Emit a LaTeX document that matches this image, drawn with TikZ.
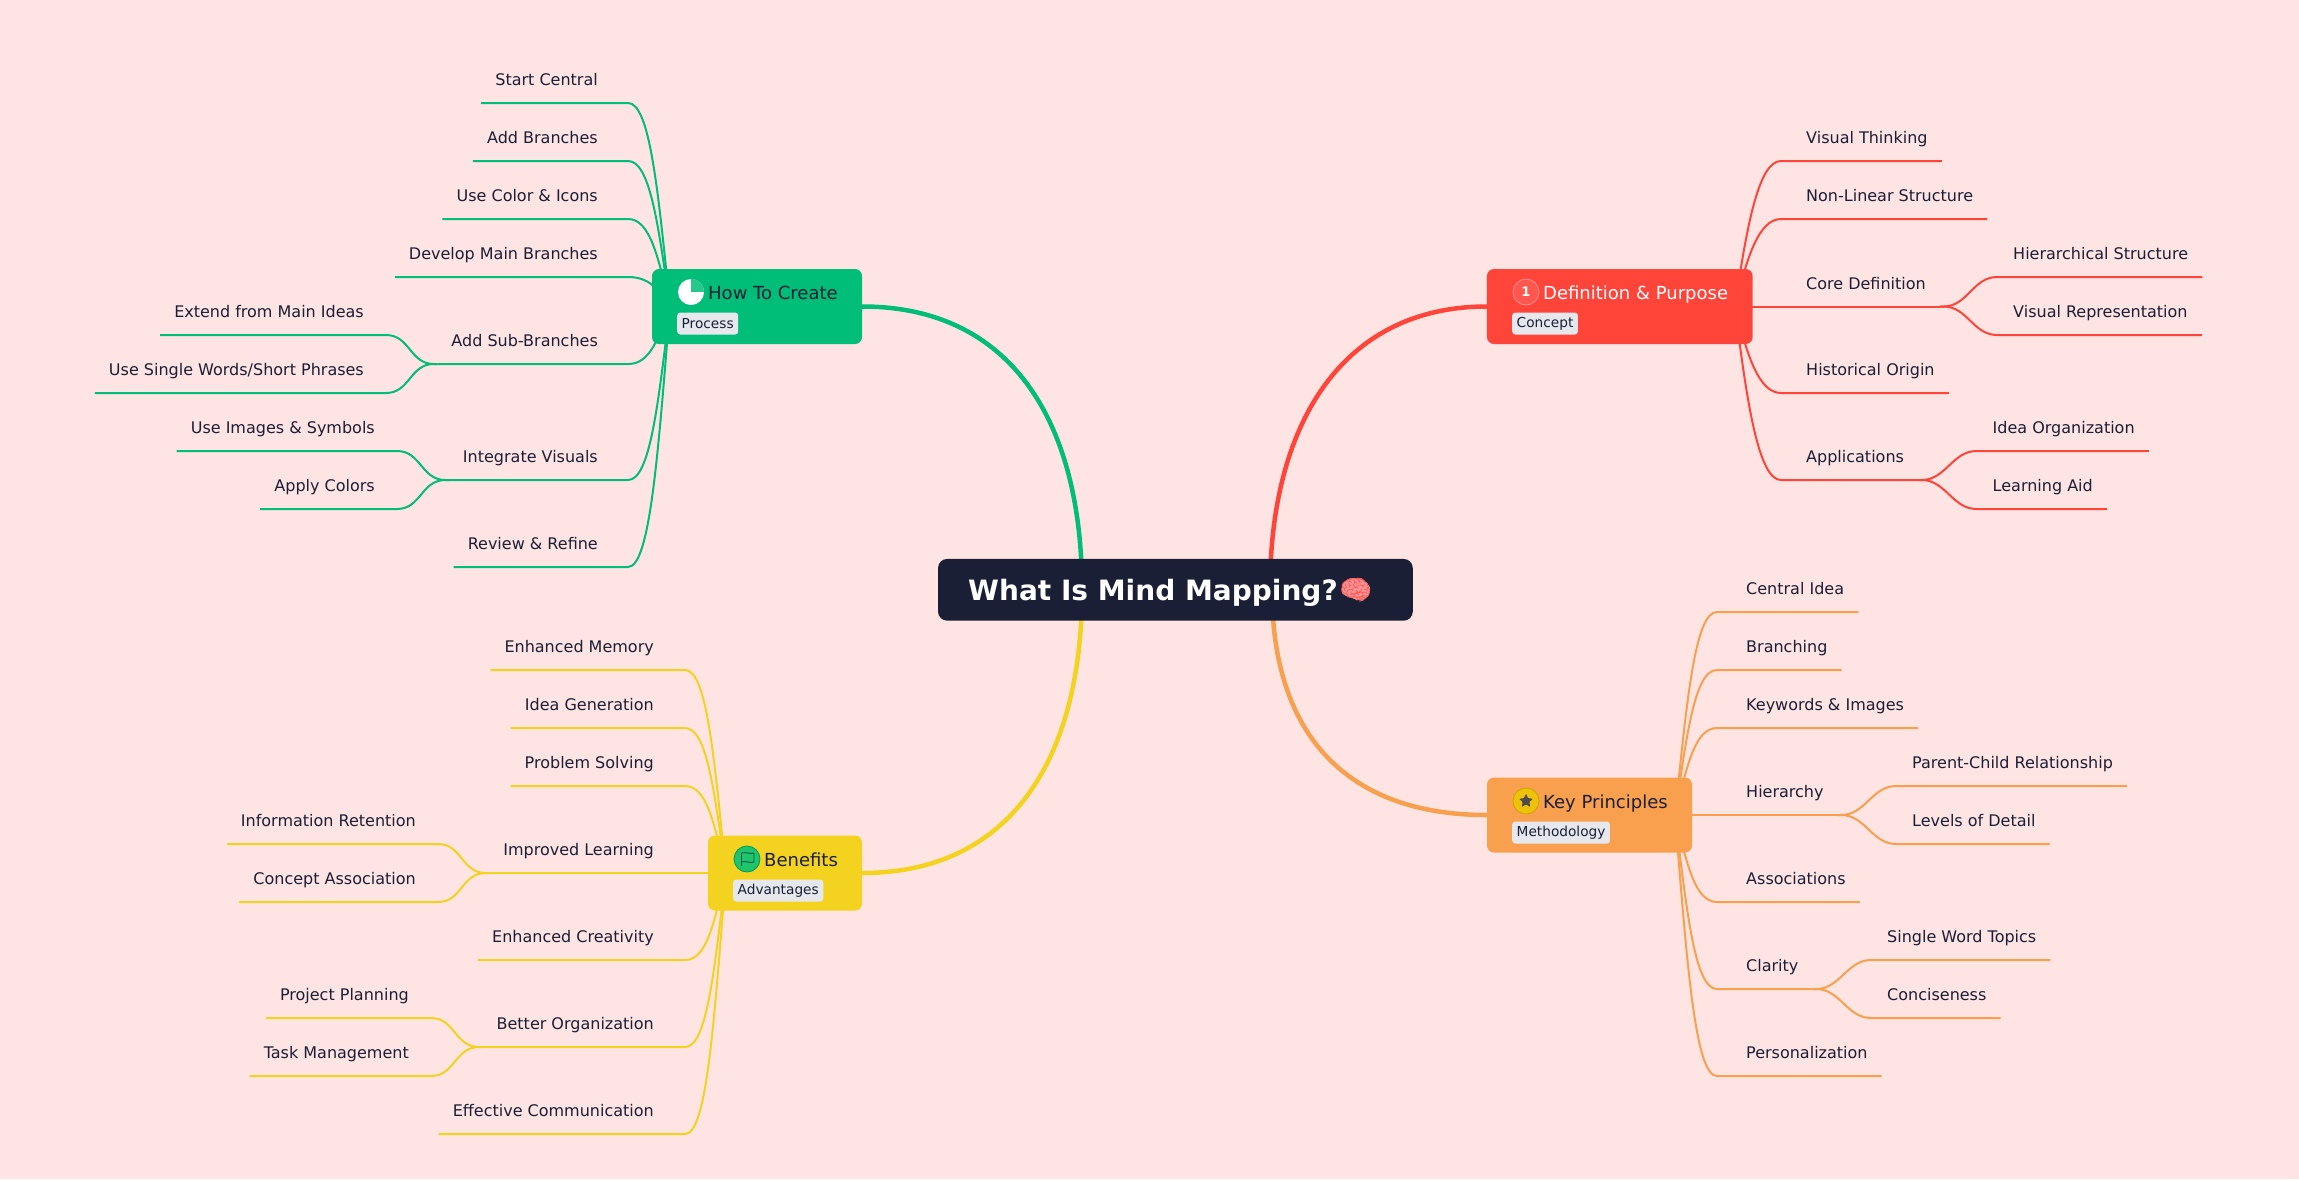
\documentclass[tikz,border=0pt]{standalone}
\usepackage{fontspec}
\setmainfont{DejaVu Sans}
\newfontfamily\emojifont{Noto Emoji}
\usetikzlibrary{calc,shapes.geometric}
\definecolor{pagebg}{HTML}{FFE4E4}
\definecolor{inkdark}{HTML}{1A1F36}
\definecolor{howcol}{HTML}{00BD78}
\definecolor{defcol}{HTML}{FF443A}
\definecolor{keycol}{HTML}{F8A04E}
\definecolor{bencol}{HTML}{F4D320}
\definecolor{tagbg}{HTML}{E6E8EE}
\tikzset{
    leaf/.style={inner xsep=14pt, inner ysep=0pt, text height=12pt, text depth=17.2pt, text=inkdark, font=\fontsize{16}{19}\selectfont},
    leafl/.style={leaf, anchor=south east},
    leafr/.style={leaf, anchor=south west},
    topic/.style={rectangle, rounded corners=7pt, minimum width=#1, minimum height=75pt, inner sep=0pt},
    toptitle/.style={anchor=base west, inner sep=0pt, text=inkdark, font=\fontsize{18}{21}\selectfont},
    taglabel/.style={anchor=west, rectangle, rounded corners=3pt, fill=tagbg, minimum height=22pt, inner xsep=4.5pt, inner ysep=0pt, text=inkdark, font=\fontsize{13.7}{16}\selectfont},
    iconc/.style={circle, minimum size=26pt, inner sep=0pt},
    thin branch/.style={draw=#1, line width=2pt},
    main branch/.style={draw=#1, line width=4.5pt}
}
\begin{document}
\begin{tikzpicture}[x=1pt, y=-1pt]
    \fill[pagebg] (0,0) rectangle (2299,1179);

    \coordinate (howhub) at (670,306.5);
    \coordinate (defhub) at (1735,306.5);
    \coordinate (keyhub) at (1675,815);
    \coordinate (benhub) at (726,873);
    \coordinate (rootg) at (1082,590);
    \coordinate (rootr) at (1270,590);
    \coordinate (rooty) at (1082,590);
    \coordinate (rooto) at (1272,590);

    % How To Create
    \foreach \nm/\yy/\txt in {howa/103/Start Central, howb/161/Add Branches, howc/219/Use Color \& Icons, howd/277/Develop Main Branches, howe/364/Add Sub-Branches, howf/480/Integrate Visuals, howg/567/Review \& Refine} {
        \pgfmathsetmacro{\ym}{.57*\yy+.43*306.5}
        \node[leafl] (\nm) at (612,\yy) {\txt};
        \draw[thin branch=howcol] (howhub) .. controls (658,\ym) and (650,\yy) .. ($(\nm.south east)+(16,0)$) -- (\nm.south west);
    }
    \foreach \nm/\pn/\xx/\yy/\txt in {howea/howe/378/335/Extend from Main Ideas, howeb/howe/378/393/{Use Single Words/Short Phrases}, howfa/howf/389/451/Use Images \& Symbols, howfb/howf/389/509/Apply Colors} {
        \node[leafl] (\nm) at (\xx,\yy) {\txt};
        \draw[thin branch=howcol] (\pn.south west) -- ++(-3.5,0) .. controls +(-24,0) and +(24,0) .. ($(\nm.south east)+(8,0)$) -- (\nm.south west);
    }

    % Definition & Purpose
    \foreach \nm/\yy/\txt in {defa/161/Visual Thinking, defb/219/Non-Linear Structure, defc/306.5/Core Definition, defd/393/Historical Origin, defe/480/Applications} {
        \pgfmathsetmacro{\ym}{.57*\yy+.43*306.5}
        \node[leafr] (\nm) at (1792,\yy) {\txt};
        \draw[thin branch=defcol] (defhub) .. controls (1747,\ym) and (1759,\yy) .. ($(\nm.south west)+(-11,0)$) -- (\nm.south east);
    }
    \foreach \nm/\pn/\xx/\yy/\txt in {defca/defc/1999/277/Hierarchical Structure, defcb/defc/1999/335/Visual Representation, defea/defe/1978.5/451/Idea Organization, defeb/defe/1978.5/509/Learning Aid} {
        \node[leafr] (\nm) at (\xx,\yy) {\txt};
        \draw[thin branch=defcol] (\pn.south east) -- ++(3.5,0) .. controls +(24,0) and +(-24,0) .. ($(\nm.south west)+(-2,0)$) -- (\nm.south east);
    }

    % Key Principles
    \foreach \nm/\yy/\txt in {keya/612/Central Idea, keyb/670/Branching, keyc/728/Keywords \& Images, keyd/815/Hierarchy, keye/902/Associations, keyf/989/Clarity, keyg/1076/Personalization} {
        \pgfmathsetmacro{\ym}{.57*\yy+.43*815}
        \node[leafr] (\nm) at (1732,\yy) {\txt};
        \draw[thin branch=keycol] (keyhub) .. controls (1687,\ym) and (1695,\yy) .. ($(\nm.south west)+(-15,0)$) -- (\nm.south east);
    }
    \foreach \nm/\pn/\xx/\yy/\txt in {keyda/keyd/1898/786/Parent-Child Relationship, keydb/keyd/1898/844/Levels of Detail, keyfa/keyf/1873/960/Single Word Topics, keyfb/keyf/1873/1018/Conciseness} {
        \node[leafr] (\nm) at (\xx,\yy) {\txt};
        \draw[thin branch=keycol] (\pn.south east) -- ++(3.5,0) .. controls +(24,0) and +(-24,0) .. ($(\nm.south west)+(-2,0)$) -- (\nm.south east);
    }

    % Benefits
    \foreach \nm/\yy/\txt in {bena/670/Enhanced Memory, benb/728/Idea Generation, benc/786/Problem Solving, bend/873/Improved Learning, bene/960/Enhanced Creativity, benf/1047/Better Organization, beng/1134/Effective Communication} {
        \pgfmathsetmacro{\ym}{.57*\yy+.43*873}
        \node[leafl] (\nm) at (668,\yy) {\txt};
        \draw[thin branch=bencol] (benhub) .. controls (714,\ym) and (707,\yy) .. ($(\nm.south east)+(17,0)$) -- (\nm.south west);
    }
    \foreach \nm/\pn/\xx/\yy/\txt in {benda/bend/430/844/Information Retention, bendb/bend/430/902/Concept Association, benfa/benf/423/1018/Project Planning, benfb/benf/423/1076/Task Management} {
        \node[leafl] (\nm) at (\xx,\yy) {\txt};
        \draw[thin branch=bencol] (\pn.south west) -- ++(-3.5,0) .. controls +(-24,0) and +(24,0) .. ($(\nm.south east)+(8,0)$) -- (\nm.south west);
    }

    % main topics
    \node[topic=210pt, fill=howcol] (how) at (757,306.5) {};
    \node[topic=265.7pt, fill=defcol] (def) at (1619.8,306.5) {};
    \node[topic=205pt, fill=keycol] (key) at (1589.5,815) {};
    \node[topic=154pt, fill=bencol] (ben) at (785,873) {};

    \node[toptitle] (howtitle) at (708,299) {How To Create};
    \node[toptitle, text=white] (deftitle) at (1543,299) {Definition \& Purpose};
    \node[toptitle] (keytitle) at (1543,808) {Key Principles};
    \node[toptitle] (bentitle) at (764,866) {Benefits};

    \node[taglabel] (howtag) at (677,323.5) {Process};
    \node[taglabel] (deftag) at (1512,323.5) {Concept};
    \node[taglabel] (keytag) at (1512,832.5) {Methodology};
    \node[taglabel] (bentag) at (733,890.5) {Advantages};

    % icons
    \node[iconc, fill=white] (howicon) at (691,292) {};
    \fill[howcol!85!white] (howicon.center) -- (howicon.north) arc[start angle=90, end angle=0, radius=13pt] -- cycle;
    \node[iconc, fill=defcol!90!white, draw=white!45!defcol, line width=0.7pt, text=white, font=\fontsize{13}{15}\selectfont\bfseries] (deficon) at (1526,292) {1};
    \node[iconc, fill={rgb,255:red,239;green,194;blue,10}, draw={rgb,255:red,205;green,165;blue,0}, line width=0.8pt] (keyicon) at (1526,801) {};
    \node[star, star points=5, star point ratio=2.2, fill=black!70, rounded corners=1pt, minimum size=15pt, inner sep=0pt] (keystar) at (keyicon) {};
    \node[iconc, fill=howcol!88!yellow, draw=howcol!80!black, line width=0.8pt] (benicon) at (747,859) {};
    \draw[inkdark!65!howcol, line width=0.9pt, line join=round] ($(benicon)+(-5.5,7)$) -- ($(benicon)+(-5.5,-6)$) .. controls +(4,-1.5) and +(-4,1.5) .. ($(benicon)+(7,-6)$) -- ($(benicon)+(7,3)$) .. controls +(-4,1.5) and +(4,-1.5) .. ($(benicon)+(-5.5,3)$);

    % main branches
    \draw[main branch=howcol] (how.east) .. controls (1010,306.5) and (1082,420) .. (rootg);
    \draw[main branch=defcol] (def.west) .. controls (1345,306.5) and (1270,420) .. (rootr);
    \draw[main branch=keycol] (key.west) .. controls (1347,815) and (1272,735) .. (rooto);
    \draw[main branch=bencol] (ben.east) .. controls (1010,873) and (1082,760) .. (rooty);

    % root
    \node[rectangle, rounded corners=9pt, fill=inkdark, minimum width=474.7pt, minimum height=61.7pt, inner sep=0pt] (root) at (1175.4,589.8) {};
    \node[anchor=base west, inner sep=0pt, text=white, font=\fontsize{28}{32}\selectfont\bfseries] (roottitle) at (968,600) {What Is Mind Mapping?};
    \fill[red!42!white, rounded corners=6pt] (1341,590) -- (1344,580) -- (1356,577) -- (1369,583) -- (1371,593) -- (1364,600) -- (1359,602) -- (1353,597) -- (1344,597) -- cycle;
    \node[inner sep=0pt, text=red!65!white, font=\emojifont\fontsize{26}{30}\selectfont] (brain) at (1355.5,589.5) {🧠};
\end{tikzpicture}
\end{document}
